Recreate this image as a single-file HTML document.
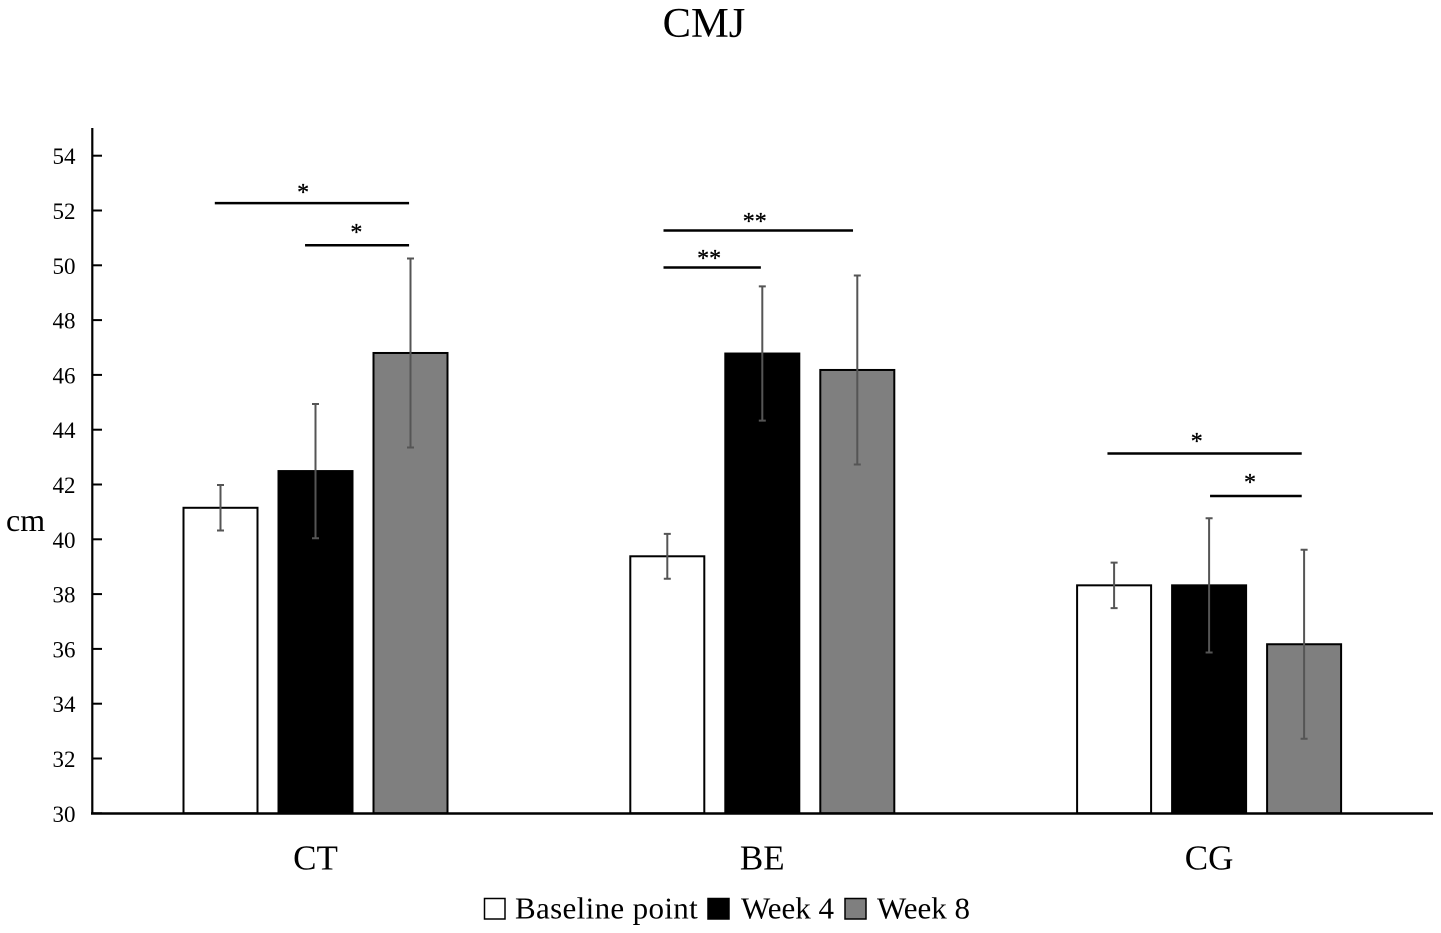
<!DOCTYPE html>
<html>
<head>
<meta charset="utf-8">
<style>
html,body{margin:0;padding:0;background:#fff;}
svg{display:block;}
text{font-family:"Liberation Serif",serif;fill:#000;}
</style>
</head>
<body>
<svg id="chart" width="1441" height="933" viewBox="0 0 1441 933" xmlns="http://www.w3.org/2000/svg"></svg>
<script>
const categories = ['CT', 'BE', 'CG'];
const seriesNames = ['Baseline point', 'Week 4', 'Week 8'];
const baselineValues = [41.15, 39.38, 38.32];
const week4Values = [42.49, 46.78, 38.32];
const week8Values = [46.8, 46.18, 36.17];
const baselineErrors = [0.83, 0.82, 0.83];
const week4Errors = [2.45, 2.45, 2.45];
const week8Errors = [3.45, 3.45, 3.45];
const yTicks = [30, 32, 34, 36, 38, 40, 42, 44, 46, 48, 50, 52, 54];
const sigYValues = [52.27, 50.73, 51.27, 49.92, 43.13, 41.58];
const sigLabelYValues = [52.38, 50.92, 51.32, 49.97, 43.29, 41.8];
const sigLabels = ['*', '*', '**', '**', '*', '*'];
const sigGroups = [0, 0, 1, 1, 2, 2];
const sigFromSeries = [-1.06, -0.11, -1.04, -1.04, -1.07, 0.01];
const sigToSeries = [0.985, 0.985, 0.955, -0.015, 0.975, 0.975];
const sigLabelSeries = [-0.13, 0.43, -0.08, -0.56, -0.13, 0.43];

const svg = document.getElementById('chart');
const NS = 'http://www.w3.org/2000/svg';
const y = v => 813.3 - (v - 30) * 27.4;
const groupX = i => 315.5 + i * 446.8;
const barX = (g, s) => groupX(g) + (s - 1) * 95;
const seriesValues = [baselineValues, week4Values, week8Values];
const seriesErrors = [baselineErrors, week4Errors, week8Errors];
const fills = ['#fff', '#000', '#7f7f7f'];

function make(tag, attrs, text) {
  const el = document.createElementNS(NS, tag);
  for (const k in attrs) el.setAttribute(k, attrs[k]);
  if (text !== undefined) el.textContent = text;
  svg.appendChild(el);
  return el;
}

let el = make('text', {x: 704, y: 37, 'font-size': 42.5, 'text-anchor': 'middle'}, 'CMJ');



el = make('text', {x: 6, y: 531, 'font-size': 32}, 'cm');



seriesValues.forEach((vals, s) => {
  vals.forEach((v, g) => {
    const cx = barX(g, s);
    const bar = make('rect', {x: cx - 37, y: y(v), width: 74, height: y(30) - y(v), fill: fills[s], stroke: '#000', 'stroke-width': 2});
    
    
  });
});

seriesValues.forEach((vals, s) => {
  vals.forEach((v, g) => {
    const cx = barX(g, s);
    const e = seriesErrors[s][g];
    const t = y(v + e), b = y(v - e);
    const err = make('path', {d: `M${cx} ${t}V${b}M${cx - 3.5} ${t}H${cx + 3.5}M${cx - 3.5} ${b}H${cx + 3.5}`, stroke: '#555', 'stroke-width': 2, fill: 'none'});
    
    
  });
});

el = make('line', {x1: 92.3, x2: 92.3, y1: 128, y2: 814.5, stroke: '#000', 'stroke-width': 2.2});



el = make('line', {x1: 91, x2: 1433, y1: 813.5, y2: 813.5, stroke: '#000', 'stroke-width': 2.5});



yTicks.forEach(t => {
  const tick = make('line', {x1: 92, x2: 102, y1: y(t), y2: y(t), stroke: '#000', 'stroke-width': 2});
  
  
  const lab = make('text', {x: 75.5, y: y(t) + 8.5, 'font-size': 23, 'text-anchor': 'end'}, t);
  
  
});

categories.forEach((c, g) => {
  const lab = make('text', {x: groupX(g), y: 869.5, 'font-size': 35, 'text-anchor': 'middle'}, c);
  
  
});

sigYValues.forEach((v, i) => {
  const g = sigGroups[i];
  const x1 = barX(g, sigFromSeries[i] + 1);
  const x2 = barX(g, sigToSeries[i] + 1);
  const line = make('line', {x1: x1, x2: x2, y1: y(v), y2: y(v), stroke: '#000', 'stroke-width': 2.5});
  
  
  const star = make('text', {x: barX(g, sigLabelSeries[i] + 1), y: y(sigLabelYValues[i]), 'font-size': 24, 'text-anchor': 'middle', stroke: '#000', 'stroke-width': 0.3}, sigLabels[i]);
  
  
});

const legendBoxX = [484.5, 708, 845];
const legendBoxW = [20.5, 21, 21];
const legendTextX = [515, 741, 877];
const legendSpacing = [0.35, 0, 0];
seriesNames.forEach((n, s) => {
  const box = make('rect', {x: legendBoxX[s], y: 898.5, width: legendBoxW[s], height: 20.5, fill: fills[s], stroke: '#000', 'stroke-width': 1.5});
  
  
  const lab = make('text', {x: legendTextX[s], y: 918.5, 'font-size': 31, 'letter-spacing': legendSpacing[s]}, n);
  
  
});
</script>
</body>
</html>
